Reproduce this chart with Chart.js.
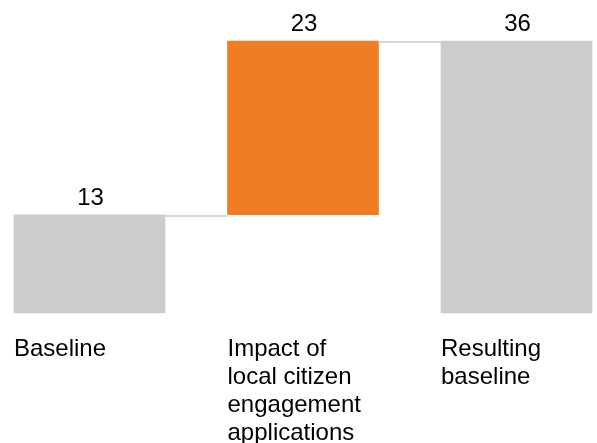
<!DOCTYPE html>
<html>
<head>
<meta charset="utf-8">
<script src="https://cdn.jsdelivr.net/npm/chart.js@4"></script>
<style>
  html, body { margin: 0; padding: 0; background: #fff; }
  #wrap { width: 597px; height: 443px; position: relative; }
</style>
</head>
<body>
<div id="wrap"><canvas id="waterfall"></canvas></div>
<script>
// Chart data
const categories = [
    ['Baseline'],
    ['Impact of', 'local citizen', 'engagement', 'applications'],
    ['Resulting', 'baseline']
];
const stepValues = [13, 23];          // baseline, impact
const totalValue = 36;                // resulting baseline
const barColors = ['#cbcccd', '#ee7d23', '#cbcccd'];

// floating ranges for the waterfall
const ranges = [
    [0, stepValues[0]],
    [stepValues[0], stepValues[0] + stepValues[1]],
    [0, totalValue]
];
const valueLabels = [stepValues[0], stepValues[1], totalValue];

const FONT = '24px "Liberation Sans", Arial, sans-serif';

// draws connectors, value labels and left-aligned category labels
const waterfallDecor = {
    id: 'waterfallDecor',
    afterDatasetsDraw(chart) {
        const ctx = chart.ctx;
        const bars = chart.getDatasetMeta(0).data;
        const yScale = chart.scales.y;

        ctx.save();
        // connector lines
        ctx.strokeStyle = '#d6d6d6';
        ctx.lineWidth = 2;
        for (let i = 0; i < bars.length - 1; i++) {
            const level = ranges[i][1];
            const y = Math.round(yScale.getPixelForValue(level)) + 1;
            const x1 = bars[i].x + bars[i].width / 2;
            const x2 = bars[i + 1].x - bars[i + 1].width / 2;
            ctx.beginPath();
            ctx.moveTo(x1, y);
            ctx.lineTo(x2, y);
            ctx.stroke();
        }

        ctx.font = FONT;
        ctx.fillStyle = '#000';
        ctx.textBaseline = 'alphabetic';
        bars.forEach(function(bar, i) {
            // value above bar
            ctx.textAlign = 'center';
            ctx.fillText(String(valueLabels[i]), bar.x + 1, bar.y - 10);
            // category label below
            ctx.textAlign = 'left';
            const left = bar.x - bar.width / 2;
            categories[i].forEach(function(line, j) {
                ctx.fillText(line, left, chart.chartArea.bottom + 43 + j * 28);
            });
        });
        ctx.restore();
    }
};

new Chart(document.getElementById('waterfall'), {
    type: 'bar',
    data: {
        labels: categories.map(c => c.join(' ')),
        datasets: [{
            data: ranges,
            backgroundColor: barColors,
            borderWidth: 0,
            barThickness: 151,
            clip: false
        }]
    },
    options: {
        responsive: true,
        maintainAspectRatio: false,
        animation: false,
        layout: {
            padding: { top: 41, bottom: 130, left: 89.5, right: 80.5 }
        },
        scales: {
            x: { display: false, offset: false, grid: { display: false } },
            y: { display: false, min: 0, max: 36, grid: { display: false } }
        },
        plugins: {
            legend: { display: false },
            tooltip: { enabled: false }
        }
    },
    plugins: [waterfallDecor]
});
</script>
</body>
</html>
